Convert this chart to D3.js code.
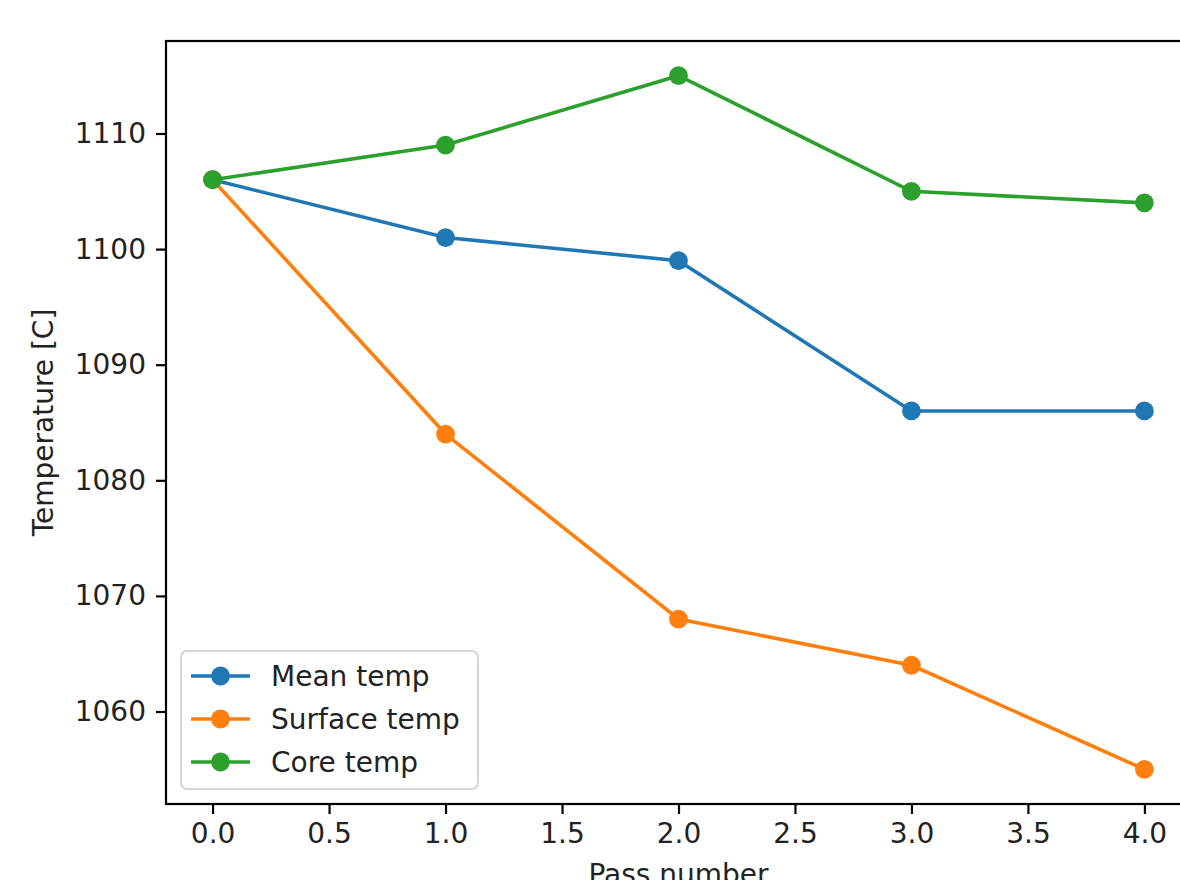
<!DOCTYPE html>
<html>
<head>
<meta charset="utf-8">
<script src="https://cdn.jsdelivr.net/npm/d3@7"></script>
<style>
  body { margin: 0; background: #fff; }
  svg { display: block; font-family: "DejaVu Sans", sans-serif; }
</style>
</head>
<body>
<svg id="chart" width="1180" height="880"></svg>
<script>
var passes = [0, 1, 2, 3, 4];
var meanTemp = [1106, 1101, 1099, 1086, 1086];
var surfaceTemp = [1106, 1084, 1068, 1064, 1055];
var coreTemp = [1106, 1109, 1115, 1105, 1104];
var seriesNames = ["Mean temp", "Surface temp", "Core temp"];
var xTicks = [0, 0.5, 1, 1.5, 2, 2.5, 3, 3.5, 4];
var yTicks = [1060, 1070, 1080, 1090, 1100, 1110];

var colors = ["#1f77b4", "#ff7f0e", "#2ca02c"];
var series = [meanTemp, surfaceTemp, coreTemp];

// plot box (window.top is reserved, so use other names)
var plotLeft = 166, plotRight = 1191, plotTop = 41, plotBottom = 804;
var fontSize = 28;
var markerR = 9.4;

var svg = d3.select("#chart");

var x = d3.scaleLinear().domain([-0.2, 4.2]).range([plotLeft, plotRight]);
var y = d3.scaleLinear().domain([1052, 1118]).range([plotBottom, plotTop]);

// axes frame
svg.append("rect")
    .attr("x", plotLeft).attr("y", plotTop)
    .attr("width", plotRight - plotLeft).attr("height", plotBottom - plotTop)
    .attr("fill", "none")
    .attr("stroke", "#000")
    .attr("stroke-width", 2.2);

var xAxis = d3.axisBottom(x).tickValues(xTicks)
    .tickFormat(d3.format(".1f")).tickSize(10).tickPadding(9);
var yAxis = d3.axisLeft(y).tickValues(yTicks)
    .tickFormat(d3.format("d")).tickSize(10).tickPadding(10);

function styleAxis(g) {
    g.select(".domain").remove();
    g.selectAll(".tick line").attr("stroke", "#000").attr("stroke-width", 2.2);
    g.selectAll(".tick text").attr("fill", "#222").style("font-size", fontSize + "px")
        .style("font-family", "DejaVu Sans");
}

svg.append("g").attr("transform", "translate(0," + plotBottom + ")").call(xAxis).call(styleAxis);
svg.append("g").attr("transform", "translate(" + plotLeft + ",0)").call(yAxis).call(styleAxis);

// labels
svg.append("text")
    .attr("x", (plotLeft + plotRight) / 2).attr("y", 884)
    .attr("text-anchor", "middle")
    .attr("fill", "#222")
    .style("font-size", fontSize + "px")
    .text("Pass number");

svg.append("text")
    .attr("transform", "translate(53," + ((plotTop + plotBottom) / 2) + ") rotate(-90)")
    .attr("text-anchor", "middle")
    .attr("fill", "#222")
    .style("font-size", fontSize + "px")
    .text("Temperature [C]");

// lines
var line = d3.line()
    .x(function(d, i) { return x(passes[i]); })
    .y(function(d) { return y(d); });

var plot = svg.append("g");
series.forEach(function(s, k) {
    plot.append("path")
        .datum(s)
        .attr("d", line)
        .attr("fill", "none")
        .attr("stroke", colors[k])
        .attr("stroke-width", 3.6);
    plot.selectAll(".m" + k)
        .data(s)
        .enter()
        .append("circle")
        .attr("cx", function(d, i) { return x(passes[i]); })
        .attr("cy", function(d) { return y(d); })
        .attr("r", markerR)
        .attr("fill", colors[k]);
});

// legend
var legend = svg.append("g").attr("transform", "translate(181,651)");
legend.append("rect")
    .attr("width", 297).attr("height", 138)
    .attr("rx", 6).attr("ry", 6)
    .attr("fill", "rgba(255,255,255,0.8)")
    .attr("stroke", "#d6d6d6")
    .attr("stroke-width", 2);

seriesNames.forEach(function(name, k) {
    var row = legend.append("g").attr("transform", "translate(0," + (25 + k * 43) + ")");
    row.append("line")
        .attr("x1", 10).attr("x2", 69)
        .attr("stroke", colors[k]).attr("stroke-width", 3.6);
    row.append("circle")
        .attr("cx", 39.5).attr("r", markerR).attr("fill", colors[k]);
    row.append("text")
        .attr("x", 90).attr("dy", "0.35em")
        .attr("fill", "#222")
        .style("font-size", fontSize + "px")
        .text(name);
});
</script>
</body>
</html>
